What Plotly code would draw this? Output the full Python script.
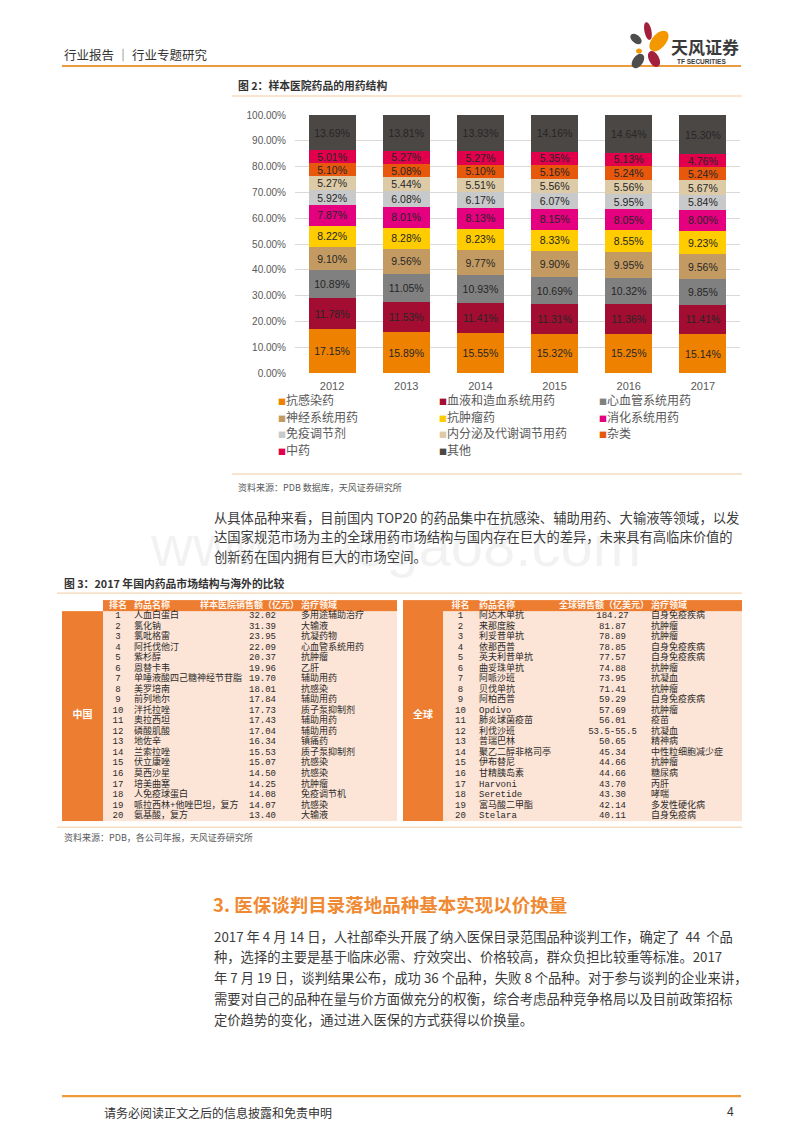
import math
import plotly.graph_objects as go

W, H = 800, 1132
CJK = "Noto Sans CJK SC"
LAT = "Liberation Sans"
MONO = "Liberation Mono, Noto Sans CJK SC"


def px(x):
    return (x - 8) / W


def py(y):
    return 1 - ((y - 14) / 0.991) / H


# ---------------- data: figure 2 ----------------
years = ["2012", "2013", "2014", "2015", "2016", "2017"]
series_names = ["抗感染药", "血液和造血系统用药", "心血管系统用药", "神经系统用药", "抗肿瘤药",
                "消化系统用药", "免疫调节剂", "内分泌及代谢调节用药", "杂类", "中药", "其他"]
anti_infective = [17.15, 15.89, 15.55, 15.32, 15.25, 15.14]
blood = [11.78, 11.53, 11.41, 11.31, 11.36, 11.41]
cardio = [10.89, 11.05, 10.93, 10.69, 10.32, 9.85]
neuro = [9.10, 9.56, 9.77, 9.90, 9.95, 9.56]
oncology = [8.22, 8.28, 8.23, 8.33, 8.55, 9.23]
digestive = [7.87, 8.01, 8.13, 8.15, 8.05, 8.00]
immune = [5.92, 6.08, 6.17, 6.07, 5.95, 5.84]
endocrine = [5.27, 5.44, 5.51, 5.56, 5.56, 5.67]
misc = [5.10, 5.08, 5.10, 5.16, 5.24, 5.24]
tcm = [5.01, 5.27, 5.27, 5.35, 5.13, 4.76]
others = [13.69, 13.81, 13.93, 14.16, 14.64, 15.30]
series_values = [anti_infective, blood, cardio, neuro, oncology, digestive,
                 immune, endocrine, misc, tcm, others]
series_colors = ["#EE8200", "#A30D32", "#808080", "#C39B62", "#FFCC00", "#E4007F",
                 "#C8C9CA", "#DCCBA6", "#E8580C", "#E2004C", "#4B4745"]
y_tickvals = [0, 10, 20, 30, 40, 50, 60, 70, 80, 90, 100]
y_ticktext = ["0.00%", "10.00%", "20.00%", "30.00%", "40.00%", "50.00%",
              "60.00%", "70.00%", "80.00%", "90.00%", "100.00%"]

# ---------------- data: figure 3 (tables) ----------------
cn_rank = [str(i) for i in range(1, 21)]
cn_name = ["人血白蛋白", "氯化钠", "氯吡格雷", "阿托伐他汀", "紫杉醇", "恩替卡韦",
           "单唾液酸四己糖神经节苷脂", "美罗培南", "前列地尔", "泮托拉唑", "奥拉西坦",
           "磷酸肌酸", "地佐辛", "兰索拉唑", "伏立康唑", "莫西沙星", "培美曲塞",
           "人免疫球蛋白", "哌拉西林+他唑巴坦，复方", "氨基酸，复方"]
cn_sales = ["32.02", "31.39", "23.95", "22.09", "20.37", "19.96", "19.70", "18.01",
            "17.84", "17.73", "17.43", "17.04", "16.34", "15.53", "15.07", "14.50",
            "14.25", "14.08", "14.07", "13.40"]
cn_area = ["多用途辅助治疗", "大输液", "抗凝药物", "心血管系统用药", "抗肿瘤", "乙肝",
           "辅助用药", "抗感染", "辅助用药", "质子泵抑制剂", "辅助用药", "辅助用药",
           "镇痛药", "质子泵抑制剂", "抗感染", "抗感染", "抗肿瘤", "免疫调节机",
           "抗感染", "大输液"]
gl_rank = [str(i) for i in range(1, 21)]
gl_name = ["阿达木单抗", "来那度胺", "利妥昔单抗", "依那西普", "英夫利昔单抗", "曲妥珠单抗",
           "阿哌沙班", "贝伐单抗", "阿柏西普", "Opdivo", "肺炎球菌疫苗", "利伐沙班",
           "普瑞巴林", "聚乙二醇非格司亭", "伊布替尼", "甘精胰岛素", "Harvoni",
           "Seretide", "富马酸二甲酯", "Stelara"]
gl_sales = ["184.27", "81.87", "78.89", "78.85", "77.57", "74.88", "73.95", "71.41",
            "59.29", "57.69", "56.01", "53.5-55.5", "50.65", "45.34", "44.66", "44.66",
            "43.70", "43.30", "42.14", "40.11"]
gl_area = ["自身免疫疾病", "抗肿瘤", "抗肿瘤", "自身免疫疾病", "自身免疫疾病", "抗肿瘤",
           "抗凝血", "抗肿瘤", "自身免疫疾病", "抗肿瘤", "疫苗", "抗凝血", "精神病",
           "中性粒细胞减少症", "抗肿瘤", "糖尿病", "丙肝", "哮喘", "多发性硬化病",
           "自身免疫病"]
cn_header = ["排名", "药品名称", "样本医院销售额（亿元）", "治疗领域"]
gl_header = ["排名", "药品名称", "全球销售额（亿美元）", "治疗领域"]

fig = go.Figure()

# ---------------- stacked bars ----------------
for name, vals, color in zip(series_names, series_values, series_colors):
    fig.add_trace(go.Bar(
        x=years, y=vals, name=name, marker=dict(color=color, line=dict(width=0)),
        texttemplate="%{y:.2f}%", textposition="inside", insidetextanchor="middle",
        textangle=0, textfont=dict(size=10.5, color="#262626", family=LAT),
        showlegend=False, hoverinfo="skip", xaxis="x", yaxis="y"))

# ---------------- tables (heatmap cells + text) ----------------
col_edges = [62, 103, 133, 225, 300, 397, 403, 443, 478, 575, 650, 742]
n_rows = len(cn_rank)
z = [[0, 1, 1, 1, 1, 0, 1, 1, 1, 1, 1]]
for i in range(n_rows):
    s = 2 if i % 2 == 0 else 3
    z.append([1, s, s, s, s, 0, 1, s, s, s, s])
fig.add_trace(go.Heatmap(
    z=z, x=col_edges, y=list(range(n_rows + 2)), zmin=0, zmax=3, showscale=False,
    colorscale=[[0, "#FFFFFF"], [0.125, "#FFFFFF"], [0.125, "#ED7D31"], [0.375, "#ED7D31"],
                [0.375, "#F5B58A"], [0.625, "#F5B58A"], [0.625, "#FCE4D6"], [1, "#FCE4D6"]],
    hoverinfo="skip", xaxis="x2", yaxis="y2"))

rows_y = [i + 1.5 for i in range(n_rows)]
cell_font = dict(size=9, color="#2B2B2B", family=MONO)
head_font = dict(size=9, color="#FFF4EA", family=CJK, weight="bold")


def add_text(xs, ys, texts, pos, font):
    fig.add_trace(go.Scatter(x=xs, y=ys, text=texts, mode="text", textposition=pos,
                             textfont=font, hoverinfo="skip", showlegend=False,
                             cliponaxis=False, xaxis="x2", yaxis="y2"))


for base, region, ranks, names, sales, areas, header in [
        (0, "中国", cn_rank, cn_name, cn_sales, cn_area, cn_header),
        (6, "全球", gl_rank, gl_name, gl_sales, gl_area, gl_header)]:
    e = col_edges[base:base + 6]
    add_text([(e[1] + e[2]) / 2] * n_rows, rows_y, ranks, "middle center", cell_font)
    add_text([e[2] + 1] * n_rows, rows_y, names, "middle right", cell_font)
    add_text([(e[3] + e[4]) / 2] * n_rows, rows_y, sales, "middle center", cell_font)
    add_text([e[4] + 1] * n_rows, rows_y, areas, "middle right", cell_font)
    add_text([(e[1] + e[2]) / 2], [0.5], [header[0]], "middle center", head_font)
    add_text([e[2] + 1], [0.5], [header[1]], "middle right", head_font)
    add_text([e[4] - 1], [0.5], [header[2]], "middle left", head_font)
    add_text([e[4] + 1], [0.5], [header[3]], "middle right", head_font)
    add_text([(e[0] + e[1]) / 2], [(n_rows + 2) / 2], [region], "middle center",
             dict(size=10, color="#FFFFFF", family=CJK, weight="bold"))

# ---------------- annotations (page text) ----------------
ann = []


def txt(x, y, s, size, color="#333333", bold=False, anchor="left", family=CJK):
    ann.append(dict(x=px(x), y=py(y), xref="paper", yref="paper", text=s, showarrow=False,
                    xanchor=anchor, yanchor="middle",
                    font=dict(size=size, color=color, family=family,
                              weight="bold" if bold else "normal")))


txt(395, 546, "www.baogao8.com", 58, "rgba(0,0,0,0.05)", anchor="center", family=LAT)
txt(62, 55, "行业报告 │ 行业专题研究", 12.5, "#333333")
txt(705, 47, "天风证券", 17, "#3A3A3A", bold=True, anchor="center")
txt(701, 62, "TF SECURITIES", 6.5, "#3A3A3A", bold=True, anchor="center", family=LAT)
txt(236, 86, "图 2：样本医院药品的用药结构", 10.8, "#333333", bold=True)

leg_cols = [276, 437, 597]
leg_rows = [400, 417, 433, 450]
for i, (name, color) in enumerate(zip(series_names, series_colors)):
    txt(leg_cols[i % 3], leg_rows[i // 3],
        f"<span style='color:{color};font-size:8px'>■</span>{name}", 12, "#595959")

txt(236, 488, "资料来源：PDB 数据库，天风证券研究所", 9, "#595959")

para1 = ["从具体品种来看，目前国内 TOP20 的药品集中在抗感染、辅助用药、大输液等领域，以发",
         "达国家规范市场为主的全球用药市场结构与国内存在巨大的差异，未来具有高临床价值的",
         "创新药在国内拥有巨大的市场空间。"]
for i, line in enumerate(para1):
    txt(212, 518 + i * 19.5, line, 13.3, "#3C3C3C")

txt(62, 584, "图 3：2017 年国内药品市场结构与海外的比较", 10.8, "#333333", bold=True)
txt(62, 838, "资料来源：PDB，各公司年报，天风证券研究所", 9, "#595959")

txt(211, 905, "3. 医保谈判目录落地品种基本实现以价换量", 18.5, "#EF8A32", bold=True)
para2 = ["2017 年 4 月 14 日，人社部牵头开展了纳入医保目录范围品种谈判工作，确定了  44  个品",
         "种，选择的主要是基于临床必需、疗效突出、价格较高，群众负担比较重等标准。2017",
         "年 7 月 19 日，谈判结果公布，成功 36 个品种，失败 8 个品种。对于参与谈判的企业来讲，",
         "需要对自己的品种在量与价方面做充分的权衡，综合考虑品种竞争格局以及目前政策招标",
         "定价趋势的变化，通过进入医保的方式获得以价换量。"]
for i, line in enumerate(para2):
    txt(212, 937 + i * 20.8, line, 13.3, "#3C3C3C")

txt(102, 1113, "请务必阅读正文之后的信息披露和免责申明", 12, "#333333")
txt(736, 1113, "4", 12, "#333333", anchor="right", family=LAT)

# ---------------- shapes (rules and logo) ----------------
shapes = []


def hline(x0, x1, y, color, width):
    shapes.append(dict(type="line", xref="paper", yref="paper", x0=px(x0), x1=px(x1),
                       y0=py(y), y1=py(y), line=dict(color=color, width=width)))


hline(62, 741, 67, "#EE9A3C", 2.2)
hline(232, 742, 97, "#F2C9A0", 1)
hline(232, 742, 475, "#F2C9A0", 1)
hline(57, 742, 594, "#F2C9A0", 1)
hline(57, 742, 828, "#F2C9A0", 1)
hline(62, 741, 1097, "#EE9A3C", 2.2)


def petal(cx, cy, L, Wd, ang, color):
    a = math.radians(ang)
    ux, uy = math.cos(a), math.sin(a)
    vx, vy = -uy, ux
    k = Wd / 1.5
    t1 = (cx + L / 2 * ux, cy + L / 2 * uy)
    t2 = (cx - L / 2 * ux, cy - L / 2 * uy)
    pts = [t1, (t1[0] + k * vx, t1[1] + k * vy), (t2[0] + k * vx, t2[1] + k * vy), t2,
           (t2[0] - k * vx, t2[1] - k * vy), (t1[0] - k * vx, t1[1] - k * vy), t1]
    p = [f"{px(q[0]):.5f},{py(q[1]):.5f}" for q in pts]
    path = f"M {p[0]} C {p[1]} {p[2]} {p[3]} C {p[4]} {p[5]} {p[6]} Z"
    shapes.append(dict(type="path", xref="paper", yref="paper", path=path,
                       fillcolor=color, line=dict(width=0)))


petal(648, 32, 18, 7, 78, "#A3203D")
petal(636, 40, 13, 8, 40, "#4D4D4D")
petal(659, 42, 24, 14, -50, "#F39800")
petal(639, 52, 6, 5, 0, "#F39800")
petal(638, 62, 16, 10, -55, "#4D4D4D")
petal(654, 60, 17, 10, 62, "#A3203D")

fig.update_layout(
    width=W, height=H, margin=dict(l=0, r=0, t=0, b=0),
    paper_bgcolor="#FFFFFF", plot_bgcolor="#FFFFFF",
    barmode="stack", bargap=0.367,
    uniformtext=dict(minsize=10, mode="show"),
    font=dict(family=CJK, color="#333333"),
    xaxis=dict(domain=[px(295), px(740)], type="category", showgrid=False, showline=False,
               zeroline=False, ticks="", ticklabelstandoff=5,
               tickfont=dict(size=11, color="#595959", family=LAT)),
    yaxis=dict(domain=[py(374), py(116)], range=[0, 100], tickvals=y_tickvals,
               ticktext=y_ticktext, showgrid=True, gridcolor="#D9D9D9", gridwidth=1,
               zeroline=False, showline=False, ticks="", ticklabelstandoff=8,
               tickfont=dict(size=10, color="#595959", family=LAT)),
    xaxis2=dict(domain=[px(62), px(742)], range=[62, 742], visible=False,
                showgrid=False, zeroline=False),
    yaxis2=dict(domain=[py(822), py(601)], range=[n_rows + 1, 0], visible=False,
                showgrid=False, zeroline=False),
    annotations=ann, shapes=shapes,
)

fig.write_html("out.html")
